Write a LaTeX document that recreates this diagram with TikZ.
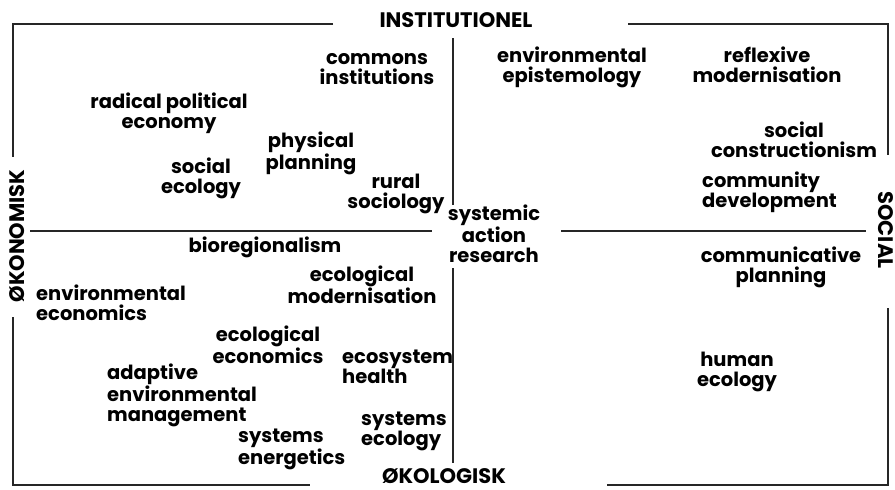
\documentclass[tikz,border=0pt]{standalone}
\usepackage{fontspec}
\setmainfont{Poppins}
\begin{document}
\begin{tikzpicture}[x=1pt,y=-1pt,
  frame/.style={line width=1.7pt, draw=black!85, line cap=butt, line join=miter},
  lbl/.style={font=\fontsize{19.5}{20}\selectfont\bfseries, inner sep=0pt, align=center, anchor=base},
  lbll/.style={lbl, align=left, anchor=base west},
  axis/.style={font=\fontsize{21}{24}\selectfont\bfseries, inner sep=0pt}]
\useasboundingbox (0,0) rectangle (895,490);

% frame corners and axis gaps
\coordinate (tl) at (13,24);  \coordinate (tlE) at (333,24);  \coordinate (tlS) at (13,157);
\coordinate (tr) at (888,24); \coordinate (trW) at (628,24);  \coordinate (trS) at (888,155);
\coordinate (bl) at (13,485); \coordinate (blN) at (13,317);  \coordinate (blE) at (310,485);
\coordinate (br) at (888,485);\coordinate (brW) at (607,485); \coordinate (brN) at (888,308);
\coordinate (hL1) at (30,231);  \coordinate (hL2) at (432,231);
\coordinate (hR1) at (561,231); \coordinate (hR2) at (866,231);
\coordinate (vT1) at (453,38);  \coordinate (vT2) at (453,205);
\coordinate (vB1) at (453,268); \coordinate (vB2) at (453,463);

\draw[frame] (tlE) -- (tl) -- (tlS);
\draw[frame] (trW) -- (tr) -- (trS);
\draw[frame] (blN) -- (bl) -- (blE);
\draw[frame] (brW) -- (br) -- (brN);
\draw[frame] (hL1) -- (hL2);
\draw[frame] (hR1) -- (hR2);
\draw[frame] (vT1) -- (vT2);
\draw[frame] (vB1) -- (vB2);

% axis labels
\node[axis, anchor=base] (inst) at (456,27) {INSTITUTIONEL};
\node[axis, anchor=base] (okol) at (444,483) {ØKOLOGISK};
\node[axis, rotate=90] (okon) at (17,236) {ØKONOMISK};
\node[axis, rotate=-90] (soc) at (886,230) {SOCIAL};

% schools of thought (anchor = baseline of the last line)
\node[lbl] (commons) at (377,84) {commons\\institutions};
\node[lbl] (rpe) at (169,128) {radical political\\economy};
\node[lbl] (phys) at (311,169) {physical\\planning};
\node[lbl] (soceco) at (201,193) {social\\ecology};
\node[lbl] (rural) at (396,208) {rural\\sociology};
\node[lbl] (bioreg) at (265,252) {bioregionalism};
\node[lbl] (envepi) at (572,82) {environmental\\epistemology};
\node[lbl] (reflex) at (767,82) {reflexive\\modernisation};
\node[lbl] (constr) at (794,157) {social\\constructionism};
\node[lbll] (commdev) at (702,207) {community\\development};
\node[lbl] (sar) at (494,262) {systemic\\action\\research};
\node[lbl] (complan) at (781,282) {communicative\\planning};
\node[lbl] (humeco) at (737,386) {human\\ecology};
\node[lbll] (enveco) at (36,320) {environmental\\economics};
\node[lbl] (ecomod) at (362,303) {ecological\\modernisation};
\node[lbl] (ecoeco) at (268,363) {ecological\\economics};
\node[lbll] (ecohealth) at (342,383) {ecosystem\\health};
\node[lbll] (adaptive) at (107,421) {adaptive\\environmental\\management};
\node[lbll] (sysen) at (238,464) {systems\\energetics};
\node[lbll] (syseco) at (361,445) {systems\\ecology};
\end{tikzpicture}
\end{document}
